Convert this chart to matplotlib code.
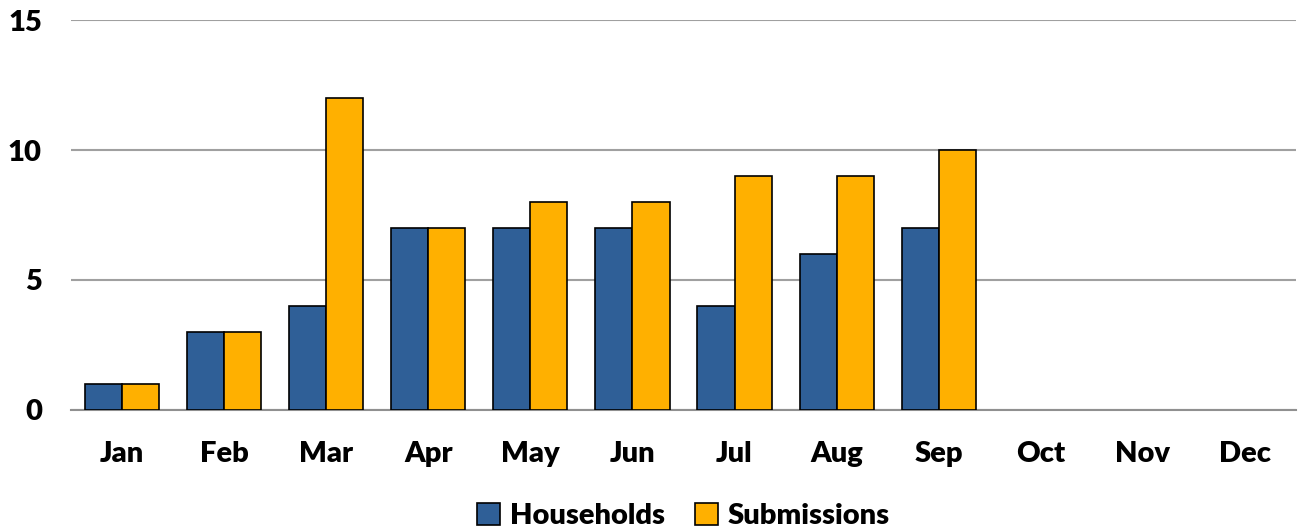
import numpy as np
import matplotlib
matplotlib.use('Agg')
from matplotlib import pyplot as plt

# Monthly data
months = ['Jan', 'Feb', 'Mar', 'Apr', 'May', 'Jun', 'Jul', 'Aug', 'Sep', 'Oct', 'Nov', 'Dec']
households = [1, 3, 4, 7, 7, 7, 4, 6, 7, 0, 0, 0]
submissions = [1, 3, 12, 7, 8, 8, 9, 9, 10, 0, 0, 0]
n_shown = 9  # only Jan..Sep have bars

plt.rcParams['font.family'] = ['Lato', 'DejaVu Sans']
plt.rcParams['font.weight'] = 'heavy'

fig = plt.figure(figsize=(13.06, 5.31), dpi=100)
ax = fig.add_axes([0.0544, 0.2279, 0.9379, 0.7344])

x = np.arange(len(months))
w = 0.363
ax.bar(x[:n_shown] - w / 2, households[:n_shown], w, color='#2F5F97',
       edgecolor='black', linewidth=1.2, label='Households', zorder=3)
ax.bar(x[:n_shown] + w / 2, submissions[:n_shown], w, color='#FFB000',
       edgecolor='black', linewidth=1.2, label='Submissions', zorder=3)

ax.set_xlim(-0.5, len(months) - 0.5)
ax.set_ylim(0, 15)
ax.set_yticks([0, 5, 10, 15])
ax.set_xticks(x)
ax.set_xticklabels(months)
ax.yaxis.grid(True, color='#A0A0A0', linewidth=1.5, zorder=0)
ax.tick_params(axis='both', length=0, labelsize=21)
ax.tick_params(axis='x', pad=22)
ax.tick_params(axis='y', pad=21)

for side in ['top', 'right', 'left']:
    ax.spines[side].set_visible(False)
ax.spines['bottom'].set_color('#909090')
ax.spines['bottom'].set_linewidth(1.5)

ax.legend(loc='upper center', bbox_to_anchor=(0.5, -0.2), ncol=2, frameon=False,
          fontsize=21, handlelength=0.8, handleheight=0.8, handletextpad=0.35,
          columnspacing=1.0, borderpad=0)

plt.savefig('out.png', dpi=100)
